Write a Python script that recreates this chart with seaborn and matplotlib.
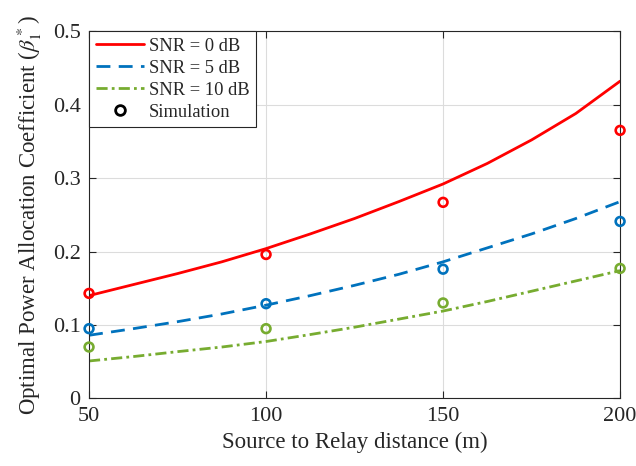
import matplotlib
matplotlib.use("Agg")
import matplotlib.pyplot as plt
import seaborn as sns
import pandas as pd
from matplotlib.lines import Line2D

# Data
distance = [50, 62.5, 75, 87.5, 100, 112.5, 125, 137.5, 150, 162.5, 175, 187.5, 200]
snr0 = [0.140, 0.155, 0.170, 0.186, 0.204, 0.224, 0.245, 0.268, 0.292, 0.320, 0.352, 0.388, 0.432]
snr5 = [0.086, 0.095, 0.1045, 0.115, 0.127, 0.140, 0.154, 0.169, 0.186, 0.205, 0.224, 0.245, 0.268]
snr10 = [0.051, 0.057, 0.0637, 0.070, 0.0775, 0.087, 0.097, 0.108, 0.119, 0.132, 0.146, 0.160, 0.174]

sim_distance = [50, 100, 150, 200]
sim_snr0 = [0.143, 0.196, 0.267, 0.365]
sim_snr5 = [0.095, 0.129, 0.176, 0.241]
sim_snr10 = [0.070, 0.095, 0.130, 0.177]

labels = ["SNR = 0 dB", "SNR = 5 dB", "SNR = 10 dB"]
xticks = [50, 100, 150, 200]
yticks = [0, 0.1, 0.2, 0.3, 0.4, 0.5]
yticklabels = ["0", "0.1", "0.2", "0.3", "0.4", "0.5"]

sns.set_theme(style="white")
plt.rcParams["font.family"] = ["Liberation Serif", "DejaVu Serif"]
plt.rcParams["mathtext.fontset"] = "stix"

colors = ["#FF0000", "#0072BD", "#77AC30"]
styles = ["-", (0, (5, 3)), (0, (4, 1.5, 1, 1.5))]

fig = plt.figure(figsize=(6.36, 4.66), dpi=100)
ax = fig.add_axes([0.140, 0.145, 0.835, 0.788])

n = len(distance)
m = len(sim_distance)
lines_df = pd.DataFrame({"x": distance * 3,
                         "y": snr0 + snr5 + snr10,
                         "s": [labels[0]] * n + [labels[1]] * n + [labels[2]] * n})
sim_df = pd.DataFrame({"x": sim_distance * 3,
                       "y": sim_snr0 + sim_snr5 + sim_snr10,
                       "s": [labels[0]] * m + [labels[1]] * m + [labels[2]] * m})

for lab, c, ls in zip(labels, colors, styles):
    sub = lines_df[lines_df["s"] == lab]
    sns.lineplot(data=sub, x="x", y="y", ax=ax, color=c, linewidth=2.0,
                 linestyle=ls, legend=False)
    ssub = sim_df[sim_df["s"] == lab]
    sns.scatterplot(data=ssub, x="x", y="y", ax=ax, marker="o", s=40,
                    facecolors="none", edgecolor=c, linewidth=1.9,
                    legend=False, zorder=5, clip_on=False)

ax.set_xlim(50, 200)
ax.set_ylim(0, 0.5)
ax.set_xticks(xticks)
ax.set_xticklabels([str(v) for v in xticks])
ax.set_yticks(yticks)
ax.set_yticklabels(yticklabels)
ax.grid(True, color="#DCDCDC", linewidth=0.8)
ax.tick_params(direction="in", length=5, width=0.8, labelsize=16, color="#262626",
               top=True, right=True, bottom=True, left=True, labelcolor="#262626", pad=6)
for sp in ax.spines.values():
    sp.set_color("#262626")
    sp.set_linewidth(0.8)

ax.set_xlabel("Source to Relay distance (m)", fontsize=16.5, color="#262626", labelpad=4)
ax.set_ylabel(r"Optimal Power Allocation Coefficient ($\beta_1^*$)", fontsize=16.5,
              color="#262626", labelpad=6)

handles = [Line2D([], [], color=colors[0], lw=2.0, ls=styles[0]),
           Line2D([], [], color=colors[1], lw=2.0, ls=styles[1]),
           Line2D([], [], color=colors[2], lw=2.0, ls=styles[2]),
           Line2D([], [], color="black", lw=0, marker="o", markerfacecolor="none",
                  markeredgewidth=2.0, markersize=7)]
leg = ax.legend(handles, labels + ["Simulation"], loc="upper left", fontsize=13.3,
                frameon=True, fancybox=False, edgecolor="#262626", framealpha=1,
                handlelength=2.6, handletextpad=0.3, borderpad=0.35, labelspacing=0.27,
                borderaxespad=0.0)
leg.get_frame().set_linewidth(0.8)

fig.savefig("out.png", dpi=100)
